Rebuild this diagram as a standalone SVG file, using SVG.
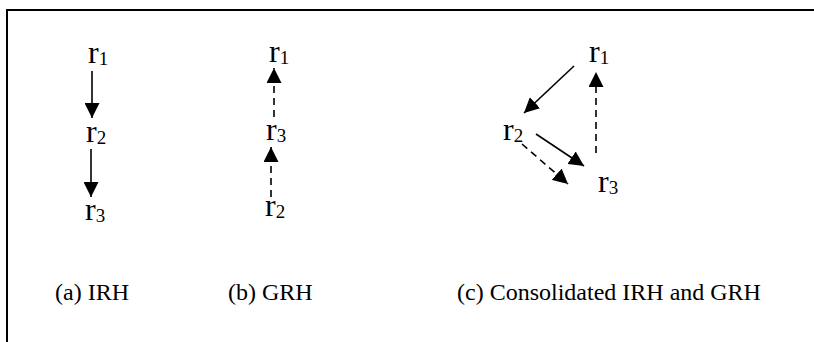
<svg xmlns="http://www.w3.org/2000/svg" width="814" height="342" viewBox="0 0 814 342">
<style>
  .n { font-family: "Liberation Serif", "Times New Roman", serif; font-size: 32px; fill: #000; }
  .s { font-size: 19px; }
  .lbl { font-family: "Liberation Serif", "Times New Roman", serif; font-size: 24px; fill: #000; }
  .e { stroke: #000; stroke-width: 1.6; fill: none; marker-end: url(#ah); }
  .d { stroke-dasharray: 7 5; }
</style>
<defs>
  <marker id="ah" viewBox="0 0 15 15" refX="15" refY="7.5" markerWidth="15" markerHeight="15" markerUnits="userSpaceOnUse" orient="auto">
    <path d="M0,0 L15,7.5 L0,15 z" fill="#000"/>
  </marker>
</defs>
<rect width="814" height="342" fill="#fff"/>
<path d="M7,342 L7,10 L814,10" stroke="#000" stroke-width="2" fill="none"/>

<g id="a-r1"><text class="n" x="88" y="63">r<tspan class="s" dy="2">1</tspan></text></g>
<g id="a-r2"><text class="n" x="86" y="142">r<tspan class="s" dy="2">2</tspan></text></g>
<g id="a-r3"><text class="n" x="85" y="220">r<tspan class="s" dy="2">3</tspan></text></g>

<g id="b-r1"><text class="n" x="269" y="62">r<tspan class="s" dy="2">1</tspan></text></g>
<g id="b-r3"><text class="n" x="266" y="140">r<tspan class="s" dy="2">3</tspan></text></g>
<g id="b-r2"><text class="n" x="265" y="216">r<tspan class="s" dy="2">2</tspan></text></g>

<g id="c-r1"><text class="n" x="589" y="62">r<tspan class="s" dy="2">1</tspan></text></g>
<g id="c-r2"><text class="n" x="503" y="140">r<tspan class="s" dy="2">2</tspan></text></g>
<g id="c-r3"><text class="n" x="598" y="192">r<tspan class="s" dy="2">3</tspan></text></g>

<g id="connectors">
  <line class="e" x1="92" y1="71" x2="92" y2="118"/>
  <line class="e" x1="91" y1="149" x2="91" y2="197"/>
  <line class="e d" x1="274" y1="117" x2="274" y2="68"/>
  <line class="e d" x1="271" y1="197" x2="271" y2="147"/>
  <line class="e" x1="574" y1="66" x2="524" y2="113"/>
  <line class="e" x1="536" y1="134" x2="584" y2="166"/>
  <line class="e d" x1="522" y1="144" x2="568" y2="184"/>
  <line class="e d" x1="596" y1="153" x2="596" y2="72"/>
</g>

<g id="labels">
  <text class="lbl" x="55" y="300">(a) IRH</text>
  <text class="lbl" x="228" y="300">(b) GRH</text>
  <text class="lbl" x="457" y="300">(c) Consolidated IRH and GRH</text>
</g>
</svg>
